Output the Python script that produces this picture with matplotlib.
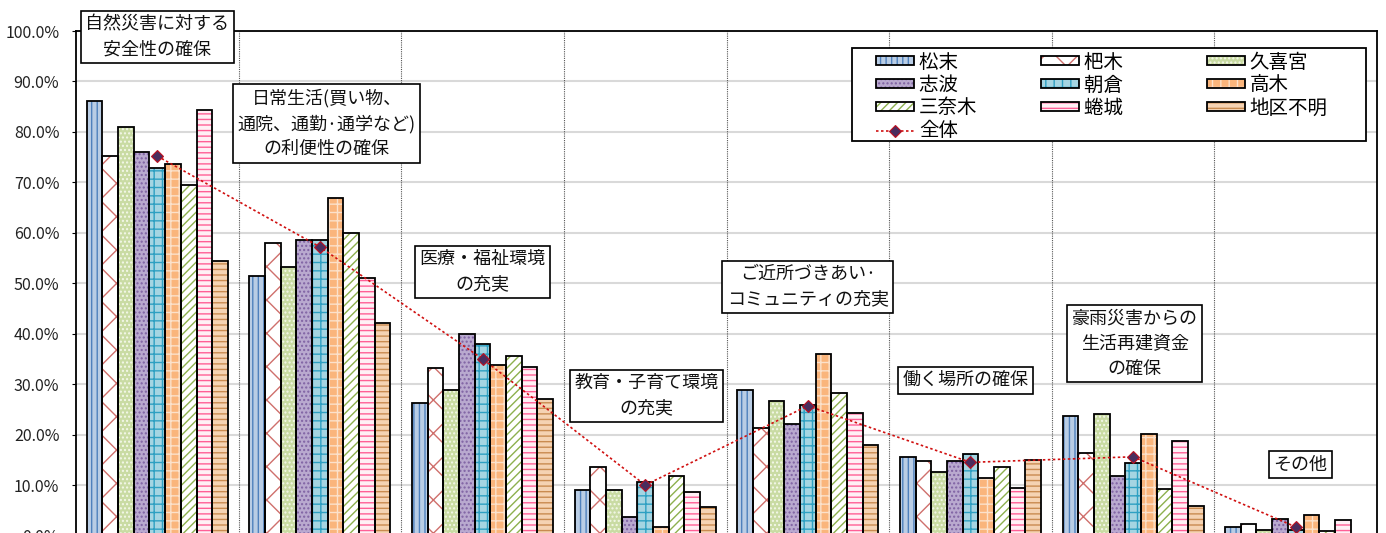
import matplotlib
matplotlib.use("Agg")
import matplotlib.pyplot as plt
import numpy as np
from matplotlib.patches import Patch, Rectangle
from matplotlib.lines import Line2D
from matplotlib.legend_handler import HandlerTuple

plt.rcParams['font.family'] = ['Noto Sans CJK JP', 'DejaVu Sans']
plt.rcParams['hatch.linewidth'] = 1.0

categories = [
    "自然災害に対する\n安全性の確保",
    "日常生活(買い物、\n通院、通勤·通学など)\nの利便性の確保",
    "医療・福祉環境\nの充実",
    "教育・子育て環境\nの充実",
    "ご近所づきあい·\nコミュニティの充実",
    "働く場所の確保",
    "豪雨災害からの\n生活再建資金\nの確保",
    "その他",
]
series_names = ["松末", "杷木", "久喜宮", "志波", "朝倉", "高木", "三奈木", "蜷城", "地区不明"]
matsusue = [86.1, 51.5, 26.2, 9.1, 28.8, 15.6, 23.6, 1.7]
haki     = [75.2, 57.9, 33.3, 13.6, 21.4, 14.7, 16.4, 2.3]
kukimiya = [80.9, 53.3, 28.8, 9.1, 26.7, 12.6, 24.0, 1.1]
shiwa    = [76.0, 58.5, 40.0, 3.7, 22.1, 14.7, 11.8, 3.2]
asakura  = [72.8, 58.5, 37.9, 10.7, 25.9, 16.1, 14.3, 1.0]
takagi   = [73.6, 66.9, 33.7, 1.7, 36.0, 11.3, 20.1, 4.0]
minaki   = [69.4, 59.9, 35.6, 11.7, 28.2, 13.5, 9.2, 0.8]
hiruki   = [84.4, 51.1, 33.4, 8.6, 24.3, 9.4, 18.7, 3.1]
unknown  = [54.5, 42.2, 27.0, 5.7, 17.9, 14.9, 5.8, 0.0]
overall_name = "全体"
overall  = [75.2, 57.2, 35.0, 10.0, 25.7, 14.5, 15.6, 1.7]
series_values = [matsusue, haki, kukimiya, shiwa, asakura, takagi, minaki, hiruki, unknown]
yticks = [0, 10, 20, 30, 40, 50, 60, 70, 80, 90, 100]

# (facecolor, hatch, hatch colour)
styles = [
    ("#B9CDE5", "|||", "#4F81BD"),
    ("#FFFFFF", "x", "#CF6F6C"),
    ("#C9DBA3", "....", "#F4F8EA"),
    ("#B9A9CF", "....", "#7F62A3"),
    ("#A5D5E2", "++", "#2EA0C2"),
    ("#FAB57C", "++", "#FBE1CB"),
    ("#FFFFFF", "////", "#8DB04E"),
    ("#FFF0F5", "---", "#FF5F96"),
    ("#F5D3B3", "---", "#C98B50"),
]
# annotation positions (category units, percent)
ann_pos = [(0.0, 98.9), (1.04, 81.7), (2.0, 52.3), (3.01, 27.7),
           (4.0, 49.3), (4.97, 30.8), (6.01, 38.0), (7.03, 14.0)]

W, H = 1386, 533
fig = plt.figure(figsize=(W / 100, H / 100), dpi=100)
left, right, top, bottom = 76, 1377, 31, 535.5
ax = fig.add_axes([left / W, (H - bottom) / H, (right - left) / W, (bottom - top) / H])

def px_to_axes(px, py):
    return (px - left) / (right - left), (bottom - py) / (bottom - top)

x = np.arange(len(categories))
n = len(series_values)
w = 0.0964
handles = []
for j, (vals, (fc, ht, hc)) in enumerate(zip(series_values, styles)):
    xs = x + (j - (n - 1) / 2) * w
    ax.bar(xs, vals, width=w, color=fc, hatch=ht, edgecolor=hc, linewidth=0, zorder=2)
    ax.bar(xs, vals, width=w, facecolor='none', edgecolor='black', linewidth=1.3, zorder=3)
    handles.append((Patch(facecolor=fc, hatch=ht, edgecolor=hc, linewidth=0),
                    Patch(facecolor='none', edgecolor='black', linewidth=1.3)))

line_kw = dict(linestyle=(0, (1.5, 1.5)), color='#D01010', linewidth=1.2,
               marker='D', markersize=6.5, markerfacecolor='#4A2D5E',
               markeredgecolor='#C01020', markeredgewidth=0.8)
ax.plot(x, overall, zorder=4, **line_kw)

ax.set_xlim(-0.5, len(categories) - 0.5)
ax.set_ylim(0, 100)
ax.set_yticks(yticks)
ax.set_yticklabels([f"{v:.1f}%" for v in yticks], fontsize=11.5, color='#222222')
ax.set_xticks([])
ax.tick_params(axis='y', length=3, pad=9)
ax.grid(axis='y', color='#D9D9D9', linewidth=1.5, zorder=0)
ax.set_axisbelow(True)
for b in np.arange(0.5, len(categories) - 0.5, 1.0):
    ax.axvline(b, color='#555555', linestyle=(0, (1, 1)), linewidth=0.8, zorder=1)
for sp in ax.spines.values():
    sp.set_color('black')
    sp.set_linewidth(1.3)

for (ax_x, ax_y), txt in zip(ann_pos, categories):
    ax.text(ax_x, ax_y, txt, ha='center', va='center', fontsize=13, linespacing=1.5,
            color='#111111', zorder=6,
            bbox=dict(boxstyle='square,pad=0.25', fc='white', ec='black', lw=1.2))

# legend frame drawn as a box, entries laid out in 3 equal columns
bx0, by0 = px_to_axes(852, 141)
bx1, by1 = px_to_axes(1366, 48)
ax.add_patch(Rectangle((bx0, by0), bx1 - bx0, by1 - by0, transform=ax.transAxes,
                       facecolor='white', edgecolor='black', linewidth=1.3, zorder=6,
                       clip_on=False))
labels = ["松末\u3000", "杷木\u3000", "久喜宮", "志波\u3000", "朝倉\u3000", "高木",
          "三奈木", "蜷城\u3000", "地区不明", overall_name]
all_handles = handles + [Line2D([0], [0], **line_kw)]
order = [0, 3, 6, 9, 1, 4, 7, 2, 5, 8]
lx, ly = px_to_axes(876, 51.5)
leg = ax.legend([all_handles[i] for i in order], [labels[i] for i in order],
                ncol=3, loc='upper left', bbox_to_anchor=(lx, ly),
                fontsize=14, frameon=False,
                handlelength=1.95, handleheight=0.3,
                labelspacing=0.1, columnspacing=3.3, handletextpad=0.25,
                borderpad=0, borderaxespad=0,
                handler_map={tuple: HandlerTuple(ndivide=1, pad=0)})
leg.set_zorder(7)

fig.savefig("out.png", dpi=100)
